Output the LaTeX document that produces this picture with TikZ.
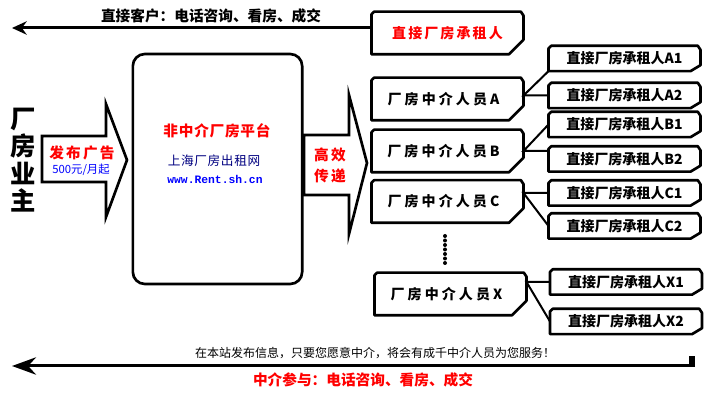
\documentclass[tikz,border=0pt]{standalone}
\usepackage{fontspec}
\setmainfont{Noto Sans CJK SC}
\newfontfamily\webfont{Liberation Mono}
\usetikzlibrary{arrows.meta}
\definecolor{navy}{RGB}{0,0,128}
\tikzset{
	every path/.style = {line width=2pt},
	tag/.style={minimum width=112pt, minimum height=30pt, inner sep=0pt,
		font=\bfseries\fontsize{10.5}{12}\selectfont\addfontfeature{LetterSpace=22}},
	subtag/.style={minimum width=112pt, minimum height=17pt, inner sep=0pt,
		font=\bfseries\fontsize{10.5}{12}\selectfont},
	link/.style={line width=1.5pt},
	bigarrow/.style={line width=2pt, fill=white, line join=miter},
	callout/.style={inner sep=0pt, font=\bfseries\fontsize{11}{15.75}\selectfont}
}

\begin{document}
\begin{tikzpicture}[x=0.75pt, y=-0.75pt]
	\useasboundingbox (0,0) rectangle (710,402);

	% owner and first arrow
	\node[inner sep=0pt, align=center, font=\bfseries\fontsize{19}{20.5}\selectfont] (owner) at (23,160) {厂\\房\\业\\主};
	\draw[bigarrow] (42,136) -- (106,136) -- (106,104) -- (127,160) -- (106,217) -- (106,182) -- (42,182) -- cycle;
	\node[callout, red, font=\bfseries\fontsize{11}{13}\selectfont\addfontfeature{LetterSpace=15}] (ad) at (82,153) {发布广告};
	\node[inner sep=0pt, blue, font=\fontsize{8.5}{10}\selectfont] (price) at (81,170) {500元/月起};

	% platform
	\node[draw, rounded corners=9pt, minimum width=127pt, minimum height=172.5pt] (plat) at (217.5,169) {};
	\node[callout, red, font=\bfseries\fontsize{11}{13}\selectfont\addfontfeature{LetterSpace=5}] (title) at (217,131) {非中介厂房平台};
	\node[inner sep=0pt, navy, font=\fontsize{9.5}{11}\selectfont\addfontfeature{LetterSpace=5}] (site) at (214,161) {上海厂房出租网};
	\node[inner sep=0pt, blue, font=\webfont\bfseries\fontsize{8.5}{10}\selectfont] (url) at (215,179) {www.Rent.sh.cn};

	% second arrow
	\draw[bigarrow] (304,135) -- (349,135) -- (349,95) -- (367,163) -- (349,234) -- (349,195) -- (304,195) -- cycle;
	\node[callout, red, align=center, font=\bfseries\fontsize{11}{15.75}\selectfont\addfontfeature{LetterSpace=15}] (fast) at (330,165) {高效\\传递};

	% tenants and agents
	\node[tag, red, font=\bfseries\fontsize{10.5}{12}\selectfont\addfontfeature{LetterSpace=15}] (top) at (447.5,33) {直接厂房承租人};
	\node[tag] (A) at (447.5,99) {厂房中介人员A\hspace*{6pt}};
	\node[tag] (B) at (447.5,151) {厂房中介人员B\hspace*{6pt}};
	\node[tag] (C) at (447.5,201.5) {厂房中介人员C\hspace*{6pt}};
	\node[tag] (X) at (450.5,294) {厂房中介人员X\hspace*{6pt}};
	\node[subtag] (A1) at (624.5,58.5) {直接厂房承租人A1};
	\node[subtag] (A2) at (624.5,95.5) {直接厂房承租人A2};
	\node[subtag] (B1) at (624.5,124.5) {直接厂房承租人B1};
	\node[subtag] (B2) at (624.5,159) {直接厂房承租人B2};
	\node[subtag] (C1) at (624.5,193) {直接厂房承租人C1};
	\node[subtag] (C2) at (624.5,226) {直接厂房承租人C2};
	\node[subtag] (X1) at (626,282) {直接厂房承租人X1};
	\node[subtag] (X2) at (626,321.5) {直接厂房承租人X2};
	\foreach \n/\w/\h in {top/11/11, A/11/11, B/11/11, C/11/11, X/11/11,
		A1/7.5/4.5, A2/7.5/4.5, B1/7.5/4.5, B2/7.5/4.5, C1/7.5/4.5, C2/7.5/4.5, X1/7.5/4.5, X2/7.5/4.5}
		\draw[line join=round] ([xshift=2pt]\n.north west) -- ([xshift=-2pt]\n.north east) -- ([yshift=-3pt]\n.north east)
			-- ([yshift=\h pt]\n.south east) -- ([xshift=-\w pt]\n.south east) -- (\n.south west)
			-- ([yshift=-2pt]\n.north west) -- cycle;

	\draw[link] (A1.south west) -- (A.east |- A2.west) -- (A2.west);
	\draw[link] (B1.west) -- (B.east) -- (B.east -| B2.west);
	\draw[link] (C1.west) -- (C1.west -| C.east) -- (C2.west);
	\draw[link] (X1.west) -- (X1.west -| X.east) -- (X2.west);
	\foreach \y in {236,240.5,...,263}
		\fill (445,\y) circle (1.5pt);

	% direct line on top
	\coordinate (tl) at (12,28);
	\draw[line width=2.25pt, -{Stealth[length=11pt, width=10pt]}] ([yshift=3.75pt]top.west) -- (tl);
	\node[callout] (direct) at (211,16) {直接客户：电话咨询、看房、成交};

	% agent line at the bottom
	\coordinate (br) at (695,366);
	\coordinate (bl) at (12,366);
	\fill (689,356) rectangle (695,367);
	\draw[line width=2.25pt, -{Stealth[length=18pt, width=13pt]}] (br) -- (bl);
	\node[inner sep=0pt, font=\fontsize{9}{11}\selectfont] (note) at (375,353) {在本站发布信息，只要您愿意中介，将会有成千中介人员为您服务！};
	\node[callout, red] (agent) at (363,380) {中介参与：电话咨询、看房、成交};
\end{tikzpicture}
\end{document}
